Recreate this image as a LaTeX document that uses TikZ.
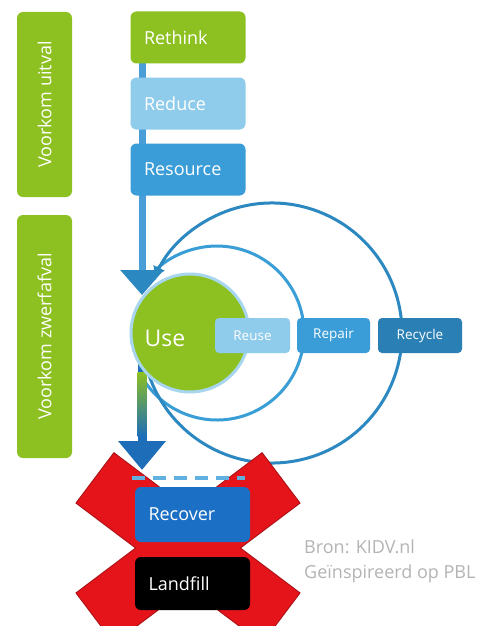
\documentclass[tikz,border=0pt]{standalone}
\usepackage{fontspec}
\setmainfont{Open Sans}
\usetikzlibrary{arrows.meta}

\definecolor{kgreen}{HTML}{8DC021}
\definecolor{klight}{HTML}{8FCBEA}
\definecolor{kblue}{HTML}{3A9DD8}
\definecolor{kdark}{HTML}{2A7FB5}
\definecolor{krecover}{HTML}{1B6FC4}
\definecolor{kring}{HTML}{A8D6EE}
\definecolor{kinner}{HTML}{3A9ED6}
\definecolor{kouter}{HTML}{2C88C0}
\definecolor{kshaft}{HTML}{4A9ED8}
\definecolor{kdrop}{HTML}{1E6DB8}
\definecolor{kred}{HTML}{E5141B}
\definecolor{kredd}{HTML}{A51015}
\definecolor{kgrey}{HTML}{B4B4B4}

\begin{document}
\begin{tikzpicture}[x=1pt, y=-1pt,
every node/.style={%anchor=base,
    inner sep=0pt, text=white
    },
sidebox/.style={fill=kgreen, rounded corners=6pt, minimum height=55pt,
    font=\fontsize{18}{20}\selectfont},
stackbox/.style={rounded corners=6pt, minimum width=115pt, minimum height=52pt,
    text width=88pt, align=left, font=\fontsize{18}{20}\selectfont},
loopbox/.style={rounded corners=4pt, minimum height=35pt,
    font=\fontsize{13.5}{15}\selectfont},
loopline/.style={line width=3pt, -{Triangle[width=12pt,length=9pt]}},
dashline/.style={line width=3.5pt, color=kblue!80, dash pattern=on 13pt off 8pt}
]
\clip (0,0) rectangle (497,626);
\fill[white] (0,0) rectangle (497,626);

% side bars
\node[sidebox, rotate=90, minimum width=185pt] (uitval) at (44.5,104.5) {Voorkom uitval};
\node[sidebox, rotate=90, minimum width=243pt] (zwerf) at (44.5,336.5) {Voorkom zwerfafval};

% circles round use
\coordinate (innerc) at (217,333);
\coordinate (outerc) at (272,333);
\draw[loopline, kinner] (innerc) ++(148:87) arc[start angle=148, end angle=-145, radius=87];
\draw[loopline, kouter] (outerc) ++(165:130) arc[start angle=165, end angle=-154, radius=130];

% main flow
\coordinate (usetip) at (142,295);
\coordinate (droptip) at (142,470);
\draw[line width=7pt, kshaft, -{Triangle[width=42pt,length=25pt, color=kouter]}] (usetip |- 0,40) -- (usetip);

\foreach \name/\txt/\col/\y in {
                rethink/Rethink/kgreen/37.5,%
                reduce/Reduce/klight/103.5,%
                resource/Resource/kblue/169.5%
            }
    \node[stackbox, fill=\col] (\name) at (188,\y) {\txt};

% red cross
\begin{scope}[shift={(188,548)}]
\foreach \r in {37,-37}
    \draw[kredd, line width=2pt, fill=kred, rotate=\r] (-116,-31) rectangle (116,31);
\foreach \r in {37,-37}
    \fill[kred, rotate=\r] (-116,-31) rectangle (116,31);
\end{scope}

\coordinate (usec) at (190,333);
\draw[line width=9pt, kdrop, -{Triangle[width=46pt,length=29pt]}] (droptip |- usec) -- (droptip);
\shade[top color=kgreen, bottom color=kdrop] (137.5,372) rectangle (146.5,436);

\node[circle, fill=kgreen, draw=kring, line width=3pt, minimum size=118pt] (use) at (usec) {};
\node[font=\fontsize{23}{25}\selectfont] (uselabel) at (165,338) {Use};

\foreach \name/\txt/\col/\x/\w in {
                reuse/Reuse/klight/252.5/75,%
                repair/Repair/kblue/333.5/73,%
                recycle/Recycle/kdark/420/84%
            }
    \node[loopbox, fill=\col, minimum width=\w pt] (\name) at (\x,335.5) {\txt};

\node[stackbox, fill=krecover, minimum height=55pt] (recover) at (192.5,514.5) {Recover};
\node[stackbox, fill=black, minimum height=53pt] (landfill) at (192.5,583.5) {Landfill};
\draw[dashline] ([xshift=-3pt,yshift=9pt]recover.north west) -- ([xshift=-5pt,yshift=9pt]recover.north east);

% source
\node[anchor=west, text=kgrey, font=\fontsize{18}{20}\selectfont] (bron) at (304,547) {Bron: KIDV.nl};
\node[anchor=west, text=kgrey, font=\fontsize{18}{20}\selectfont] (pbl) at (304,574) {Geïnspireerd op PBL};

\end{tikzpicture}
\end{document}
